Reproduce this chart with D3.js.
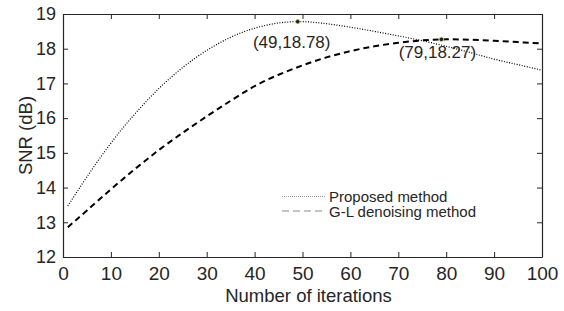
<!DOCTYPE html>
<html><head><meta charset="utf-8">
<script src="https://cdn.jsdelivr.net/npm/d3@7"></script>
<style>body{margin:0;background:#fff}svg{display:block}text{font-family:"Liberation Sans",Arial,sans-serif;fill:#262626}</style>
</head><body><svg id="c" width="564" height="311"></svg>
<script>
const iterations = [1,5,10,15,20,25,30,35,40,45,50,55,60,65,70,75,80,85,90,95,100];
const proposed = [13.47,14.31,15.28,16.12,16.85,17.46,17.95,18.33,18.59,18.74,18.78,18.72,18.62,18.50,18.37,18.23,18.07,17.89,17.70,17.54,17.38];
const glMethod = [12.86,13.34,13.95,14.53,15.08,15.58,16.05,16.50,16.92,17.25,17.52,17.75,17.93,18.07,18.17,18.24,18.27,18.26,18.23,18.19,18.15];
const xTicks = [0,10,20,30,40,50,60,70,80,90,100];
const yTicks = [12,13,14,15,16,17,18,19];
const peaks = [{x:49,y:18.78,label:"(49,18.78)"},{x:79,y:18.27,label:"(79,18.27)"}];
const seriesNames = ["Proposed method","G-L denoising method"];

const svg = d3.select("#c");
const m = {l:63, r:22, t:14, b:54};
const W = 564, H = 311;
const x = d3.scaleLinear().domain([0,100]).range([m.l, W-m.r]);
const y = d3.scaleLinear().domain([12,19]).range([H-m.b, m.t]);
const axisColor = "#262626";

function styleAxis(g){
  g.select(".domain").attr("stroke", axisColor).attr("stroke-width",1.2);
  g.selectAll(".tick line").attr("stroke", axisColor).attr("stroke-width",1);
  g.selectAll(".tick text").attr("fill", axisColor).style("font-size","18px").style("font-family",'"Liberation Sans",Arial,sans-serif');
}
svg.append("g").attr("transform",`translate(0,${H-m.b})`)
  .call(d3.axisBottom(x).tickValues(xTicks).tickSizeInner(-5).tickSizeOuter(0).tickPadding(10).tickFormat(d3.format("d")))
  .call(styleAxis).call(g=>g.selectAll(".tick text").style("font-size","19px"));
svg.append("g").attr("transform",`translate(0,${m.t})`)
  .call(d3.axisTop(x).tickValues(xTicks).tickSizeInner(-5).tickSizeOuter(0).tickFormat(""))
  .call(styleAxis);
svg.append("g").attr("transform",`translate(${m.l},0)`)
  .call(d3.axisLeft(y).tickValues(yTicks).tickSizeInner(-5).tickSizeOuter(0).tickPadding(7).tickFormat(d3.format("d")))
  .call(styleAxis);
svg.append("g").attr("transform",`translate(${W-m.r},0)`)
  .call(d3.axisRight(y).tickValues(yTicks).tickSizeInner(-5).tickSizeOuter(0).tickFormat(""))
  .call(styleAxis);

const line = d3.line().x((d,i)=>x(iterations[i])).y(d=>y(d)).curve(d3.curveNatural);
svg.append("path").datum(proposed).attr("d",line).attr("fill","none")
  .attr("stroke","#000").attr("stroke-width",1.2).attr("stroke-dasharray","1,1.6");
svg.append("path").datum(glMethod).attr("d",line).attr("fill","none")
  .attr("stroke","#000").attr("stroke-width",2).attr("stroke-dasharray","6,4");

const labelOffsets = [[-6,26],[-4,19]];
peaks.forEach((p,i)=>{
  svg.append("circle").attr("cx",x(p.x)).attr("cy",y(p.y)).attr("r",2.3)
    .attr("fill","#222").attr("stroke","#f5f0a0").attr("stroke-width",0.8);
  svg.append("text").attr("x",x(p.x)+labelOffsets[i][0]).attr("y",y(p.y)+labelOffsets[i][1]).attr("text-anchor","middle")
    .style("font-size","17px").text(p.label);
});

// legend
const lg = svg.append("g");
const lx0 = 282, lx1 = 325, tx = 329;
lg.append("line").attr("x1",lx0).attr("x2",lx1).attr("y1",196.5).attr("y2",196.5)
  .attr("stroke","#999").attr("stroke-width",1).attr("stroke-dasharray","1,1");
lg.append("line").attr("x1",lx0).attr("x2",lx1).attr("y1",211).attr("y2",211)
  .attr("stroke","#888").attr("stroke-width",1).attr("stroke-dasharray","7,4");
lg.append("text").attr("x",tx).attr("y",201.5).style("font-size","15px").text(seriesNames[0]);
lg.append("text").attr("x",tx).attr("y",217).style("font-size","15px").text(seriesNames[1]);

svg.append("text").attr("x",(m.l + W - m.r)/2 + 6).attr("y",302).attr("text-anchor","middle")
  .style("font-size","18.5px").text("Number of iterations");
svg.append("text").attr("transform",`translate(32,${(m.t+H-m.b)/2}) rotate(-90)`)
  .attr("text-anchor","middle").style("font-size","18.5px").text("SNR (dB)");
</script></body></html>
